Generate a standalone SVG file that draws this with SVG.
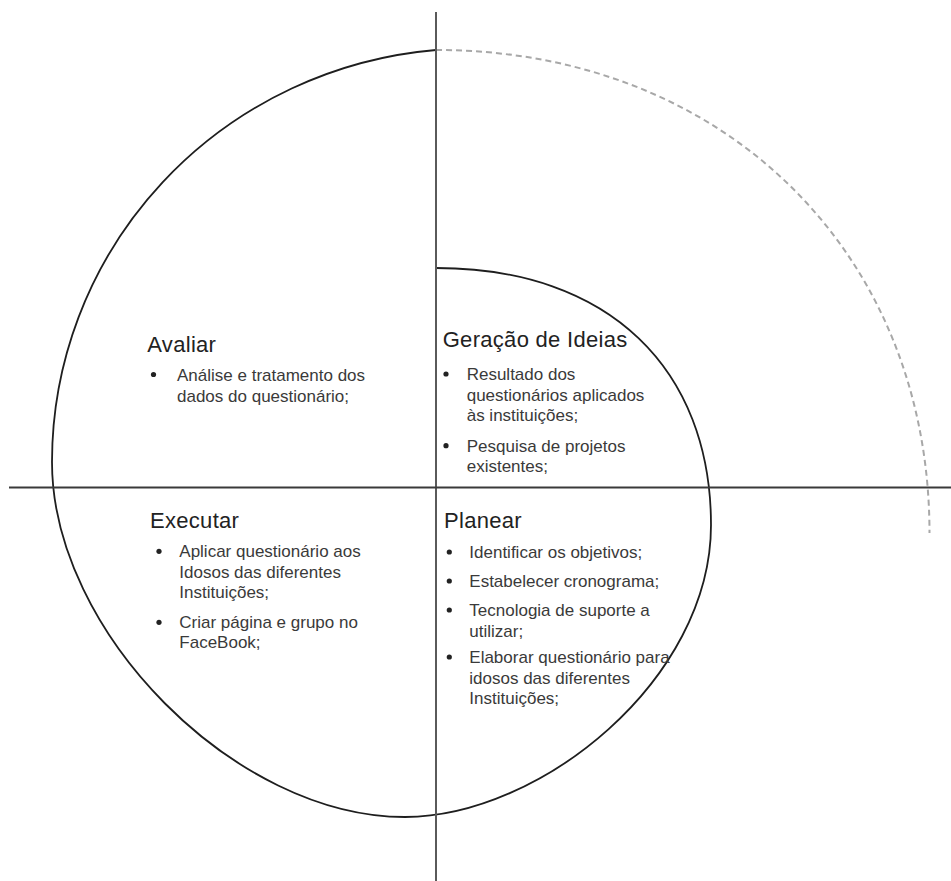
<svg xmlns="http://www.w3.org/2000/svg" width="951" height="881" viewBox="0 0 951 881">
<style>
.title{font-family:"Liberation Sans",Arial,sans-serif;font-size:22px;letter-spacing:0.3px;fill:#222}
.body{font-family:"Liberation Sans",Arial,sans-serif;font-size:17px;fill:#3a3a3a}
.dot{fill:#222}
.axis{stroke:#4a4a4a;stroke-width:2;fill:none}
.spiral{stroke:#1e1e1e;stroke-width:1.8;fill:none}
.dash{stroke:#a8a8a8;stroke-width:2;fill:none;stroke-dasharray:6 4}
</style>
<rect width="951" height="881" fill="#fff"/>
<g id="connectors">
  <path class="dash" d="M 436 50 C 724 50, 929.5 253, 929.5 533"/>
  <path class="spiral" d="M 436 268 C 610 268, 711 370, 711 525 C 711 680, 540 817, 405 817 C 235 817, 52 632, 52 462 A 420 413.5 0 0 1 436 50"/>
  <line class="axis" x1="436" y1="12" x2="436" y2="881" style="stroke:#5a5a5a"/>
  <line class="axis" x1="9" y1="487.5" x2="951" y2="487.5" style="stroke:#3a3a3a"/>
</g>
<g id="avaliar">
  <text class="title" x="147.3" y="352">Avaliar</text>
  <circle class="dot" cx="153.5" cy="374.5" r="2.6"/>
  <text class="body" x="177" y="380.5">Análise e tratamento dos</text>
  <text class="body" x="177" y="401.5">dados do questionário;</text>
</g>
<g id="geracao">
  <text class="title" x="442.7" y="346.5">Geração de Ideias</text>
  <circle class="dot" cx="446" cy="374" r="2.6"/>
  <text class="body" x="466.7" y="380">Resultado dos</text>
  <text class="body" x="466.7" y="400.7">questionários aplicados</text>
  <text class="body" x="466.7" y="421">às instituições;</text>
  <circle class="dot" cx="446" cy="445.7" r="2.6"/>
  <text class="body" x="466.7" y="451.7">Pesquisa de projetos</text>
  <text class="body" x="466.7" y="471.7">existentes;</text>
</g>
<g id="executar">
  <text class="title" x="150" y="528.3">Executar</text>
  <circle class="dot" cx="159" cy="551.3" r="2.6"/>
  <text class="body" x="179.3" y="557.3">Aplicar questionário aos</text>
  <text class="body" x="179.3" y="578">Idosos das diferentes</text>
  <text class="body" x="179.3" y="598.3">Instituições;</text>
  <circle class="dot" cx="159" cy="622.3" r="2.6"/>
  <text class="body" x="179.3" y="628.3">Criar página e grupo no</text>
  <text class="body" x="179.3" y="648.3">FaceBook;</text>
</g>
<g id="planear">
  <text class="title" x="444" y="528.3">Planear</text>
  <circle class="dot" cx="449.3" cy="552" r="2.6"/>
  <text class="body" x="469.3" y="558">Identificar os objetivos;</text>
  <circle class="dot" cx="449.3" cy="581" r="2.6"/>
  <text class="body" x="469.3" y="587">Estabelecer cronograma;</text>
  <circle class="dot" cx="449.3" cy="610" r="2.6"/>
  <text class="body" x="469.3" y="616">Tecnologia de suporte a</text>
  <text class="body" x="469.3" y="636.5">utilizar;</text>
  <circle class="dot" cx="449.3" cy="657" r="2.6"/>
  <text class="body" x="469.3" y="663">Elaborar questionário para</text>
  <text class="body" x="469.3" y="683.5">idosos das diferentes</text>
  <text class="body" x="469.3" y="704">Instituições;</text>
</g>
</svg>
